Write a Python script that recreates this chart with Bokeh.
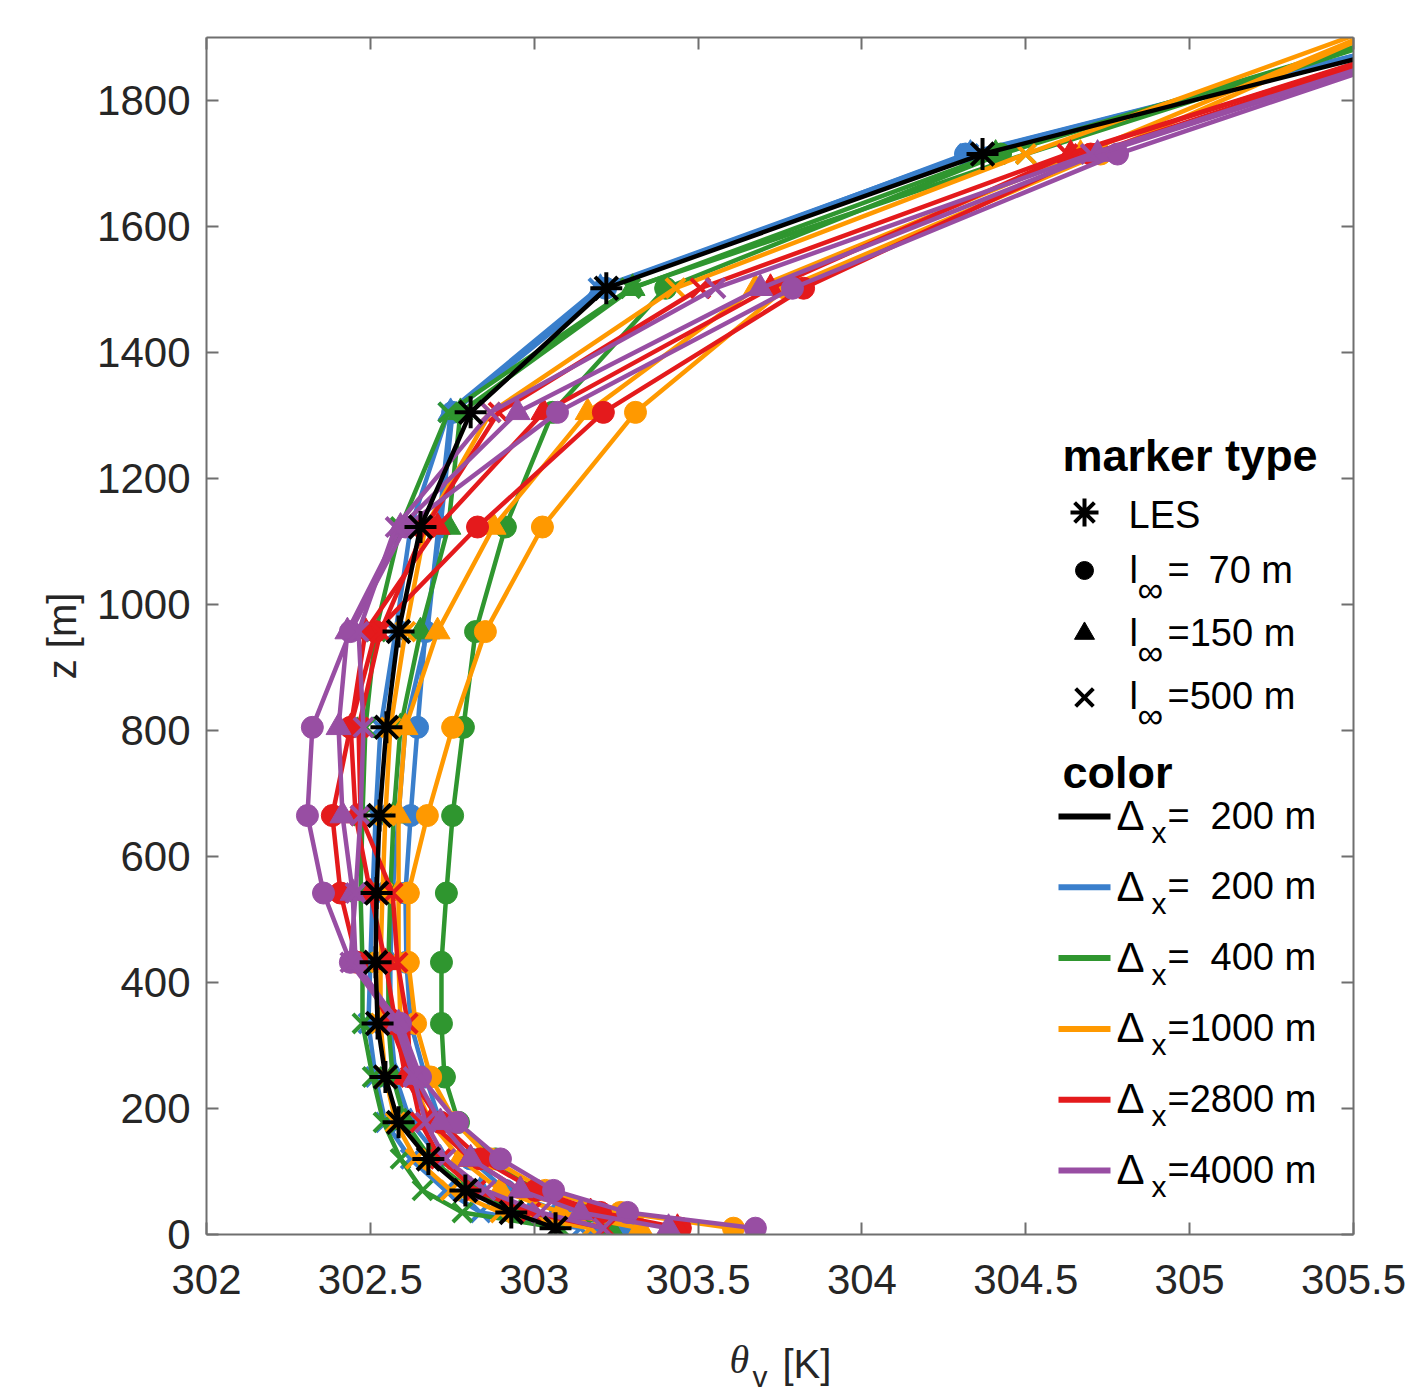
from bokeh.plotting import figure
from bokeh.models import Range1d, LinearAxis, Label, FixedTicker, CustomJSTickFormatter
from bokeh.embed import file_html
from bokeh.resources import INLINE

# ---------------- data ----------------
z_levels = [10, 35, 70, 120, 178, 250, 335, 432, 542, 665, 805, 957, 1123, 1305, 1502, 1715, 1950]

les = [303.065, 302.93, 302.79, 302.677, 302.586, 302.546, 302.522, 302.516, 302.519, 302.528,
       302.549, 302.586, 302.653, 302.806, 303.22, 304.368, 306.14]

blue_l70 = [303.279, 303.08, 302.912, 302.806, 302.714, 302.668, 302.623, 302.61, 302.607, 302.623,
            302.644, 302.668, 302.714, 302.751, 303.218, 304.316, 306.10]
blue_l150 = [303.2, 302.99, 302.836, 302.714, 302.623, 302.577, 302.561, 302.561, 302.568, 302.586,
             302.607, 302.674, 302.708, 302.745, 303.202, 304.331, 306.10]
blue_l500 = [303.141, 302.836, 302.729, 302.623, 302.546, 302.516, 302.494, 302.5, 302.507, 302.516,
             302.531, 302.577, 302.623, 302.738, 303.196, 304.325, 306.10]

green_l70 = [303.431, 303.157, 302.989, 302.882, 302.769, 302.726, 302.717, 302.717, 302.732, 302.751,
             302.784, 302.821, 302.912, 303.056, 303.401, 304.423, 305.92]
green_l150 = [303.233, 302.958, 302.806, 302.684, 302.607, 302.568, 302.555, 302.555, 302.561, 302.571,
              302.592, 302.653, 302.738, 302.775, 303.3, 304.408, 305.92]
green_l500 = [303.08, 302.781, 302.659, 302.592, 302.54, 302.507, 302.476, 302.476, 302.47, 302.476,
              302.485, 302.516, 302.592, 302.738, 303.294, 304.5, 305.92]

orange_l70 = [303.608, 303.263, 303.034, 302.867, 302.76, 302.684, 302.638, 302.616, 302.616, 302.674,
              302.751, 302.851, 303.025, 303.309, 303.767, 304.728, 305.75]
orange_l150 = [303.324, 303.08, 302.897, 302.775, 302.684, 302.623, 302.592, 302.586, 302.586, 302.586,
               302.607, 302.705, 302.876, 303.163, 303.675, 304.667, 305.75]
orange_l500 = [303.172, 302.897, 302.745, 302.638, 302.577, 302.546, 302.531, 302.531, 302.537, 302.546,
               302.561, 302.607, 302.668, 302.867, 303.431, 304.5, 305.75]

red_l70 = [303.446, 303.202, 303.004, 302.836, 302.714, 302.623, 302.561, 302.46, 302.409, 302.384,
           302.439, 302.516, 302.827, 303.211, 303.822, 304.698, 306.06]
red_l150 = [303.437, 303.172, 302.958, 302.806, 302.684, 302.607, 302.577, 302.546, 302.5, 302.455,
            302.44, 302.485, 302.705, 303.028, 303.721, 304.637, 306.06]
red_l500 = [303.218, 302.989, 302.821, 302.714, 302.653, 302.623, 302.614, 302.583, 302.568, 302.47,
            302.464, 302.531, 302.668, 302.891, 303.507, 304.627, 306.06]

purple_l70 = [303.675, 303.285, 303.059, 302.897, 302.766, 302.653, 302.592, 302.439, 302.357, 302.308,
              302.323, 302.439, 302.607, 303.071, 303.788, 304.78, 306.12]
purple_l150 = [303.41, 303.141, 302.958, 302.806, 302.714, 302.638, 302.586, 302.455, 302.446, 302.415,
               302.403, 302.43, 302.592, 302.949, 303.69, 304.719, 306.12]
purple_l500 = [303.211, 303.019, 302.851, 302.729, 302.668, 302.632, 302.577, 302.439, 302.455, 302.47,
               302.479, 302.464, 302.577, 302.867, 303.553, 304.698, 306.12]

x_ticks = [302, 302.5, 303, 303.5, 304, 304.5, 305, 305.5]
y_ticks = [0, 200, 400, 600, 800, 1000, 1200, 1400, 1600, 1800]

marker_labels = ["LES", "70 m", "150 m", "500 m"]
color_labels = ["200 m", "200 m", "400 m", "1000 m", "2800 m", "4000 m"]

BLUE, GREEN, ORANGE, RED, PURPLE = "#3a7fcc", "#2f962f", "#ff9900", "#e41a1c", "#984ea3"

groups = [
    (BLUE, [blue_l70, blue_l150, blue_l500]),
    (GREEN, [green_l70, green_l150, green_l500]),
    (ORANGE, [orange_l70, orange_l150, orange_l500]),
    (RED, [red_l70, red_l150, red_l500]),
    (PURPLE, [purple_l70, purple_l150, purple_l500]),
]
markers = [("circle", 22), ("triangle", 25), ("x", 27)]

# ---------------- figure ----------------
X0, X1, Y0, Y1 = 302, 305.5, 0, 1900
FL, FR, FT, FB = 206, 1353, 37, 1234  # frame in page pixels
W, H = 1406, 1394


def sx(px):
    return X0 + (px - FL) / (FR - FL) * (X1 - X0)


def sy(py):
    return Y0 + (FB - py) / (FB - FT) * (Y1 - Y0)


p = figure(frame_width=FR - FL, frame_height=FB - FT,
           x_range=Range1d(X0, X1), y_range=Range1d(Y0, Y1),
           output_backend="svg", toolbar_location=None,
           min_border_left=FL, min_border_top=FT,
           min_border_right=W - FR, min_border_bottom=H - FB)
p.xgrid.visible = False
p.ygrid.visible = False
p.outline_line_color = None
p.background_fill_color = "white"

FONT = "Liberation Sans"
AXC = "#6f6f6f"
fmt = CustomJSTickFormatter(code="return String(Math.round(tick*10)/10);")
blank = CustomJSTickFormatter(code="return '';")

xa = p.xaxis[0]
ya = p.yaxis[0]
for ax, tk in ((xa, x_ticks), (ya, y_ticks)):
    ax.ticker = FixedTicker(ticks=tk)
    ax.formatter = fmt
    ax.axis_line_color = AXC
    ax.axis_line_width = 2
    ax.major_tick_line_color = AXC
    ax.major_tick_line_width = 2
    ax.major_tick_in = 12
    ax.major_tick_out = 0
    ax.minor_tick_line_color = None
    ax.major_label_text_font = FONT
    ax.major_label_text_font_size = "42px"
    ax.major_label_text_color = "#262626"
xa.major_label_standoff = 30
ya.major_label_standoff = 16
ya.axis_label = "z [m]"
ya.axis_label_text_font = FONT
ya.axis_label_text_font_size = "40px"
ya.axis_label_text_font_style = "normal"
ya.axis_label_text_color = "#262626"
ya.axis_label_standoff = 10

for loc, tk in (("right", y_ticks), ("above", x_ticks)):
    ax = LinearAxis(ticker=FixedTicker(ticks=tk), formatter=blank,
                    axis_line_color=AXC, axis_line_width=2,
                    major_tick_line_color=AXC, major_tick_line_width=2,
                    major_tick_in=12, major_tick_out=0, minor_tick_line_color=None,
                    major_label_text_font_size="10px", major_label_standoff=0)
    p.add_layout(ax, loc)

# ---------------- series ----------------
for color, series in groups:
    for (mk, sz), xs in zip(markers, series):
        p.line(xs, z_levels, line_color=color, line_width=4.5)
        if mk == "x":
            p.scatter(xs, z_levels, marker="x", size=sz, line_color=color, line_width=4)
        else:
            p.scatter(xs, z_levels, marker=mk, size=sz, fill_color=color, line_color=color)

p.line(les, z_levels, line_color="black", line_width=4.5)
p.scatter(les, z_levels, marker="asterisk", size=32, line_color="black", line_width=4)

# ---------------- legend (drawn manually) ----------------
DY = -13  # baseline correction


def lab(px, py, text, size="38px", style="normal", font=FONT):
    p.add_layout(Label(x=sx(px), y=sy(py + DY), text=text, text_font=font, text_font_size=size,
                       text_font_style=style, text_baseline="alphabetic", text_align="left",
                       text_color="black"))


lab(1062, 468, "marker type", size="45px", style="bold")

# marker symbols
mk_y = [512, 570, 633, 697]
p.scatter([sx(1084)], [sy(mk_y[0])], marker="asterisk", size=28, line_color="black", line_width=4)
p.scatter([sx(1084)], [sy(mk_y[1])], marker="circle", size=18, fill_color="black", line_color="black")
p.scatter([sx(1084)], [sy(mk_y[2])], marker="triangle", size=20, fill_color="black", line_color="black")
p.scatter([sx(1084)], [sy(mk_y[3])], marker="x", size=25, line_color="black", line_width=4)

lab(1128, 527, marker_labels[0])
for (base, lbl) in zip([582, 645, 708], marker_labels[1:]):
    lab(1129, base, "l")
    lab(1137, base + 20, "\u221e", size="36px")
    if len(lbl) < 5:
        lab(1167, base, "=")
        lab(1208, base, lbl)
    else:
        lab(1167, base, "=" + lbl)

lab(1062, 785, "color", size="45px", style="bold")
leg_colors = ["black", BLUE, GREEN, ORANGE, RED, PURPLE]
for i, (c, lbl) in enumerate(zip(leg_colors, color_labels)):
    base = 828 + i * 70.8
    sw = base - 12
    p.segment(x0=[sx(1058)], y0=[sy(sw)], x1=[sx(1110)], y1=[sy(sw)], line_color=c, line_width=6)
    lab(1116, base, "\u0394", size="42px")
    lab(1151, base + 17, "x", size="30px")
    if len(lbl) < 6:
        lab(1167, base, "=")
        lab(1210, base, lbl)
    else:
        lab(1167, base, "=" + lbl)

# x axis label: theta_v [K]  (each Label gets its own stacked slot in the panel below,
# so the vertical positions carry per-slot corrections)
for txt, px, py, size, font, style in (("\u03b8", 729, 1412, "40px", "Liberation Serif", "italic"),
                                       ("v", 752, 1396, "30px", FONT, "normal"),
                                       ("[K]", 782, 1339, "40px", FONT, "normal")):
    p.add_layout(Label(x=px - FL, y=H - py, x_units="screen", y_units="screen", text=txt,
                       text_font=font, text_font_size=size, text_font_style=style,
                       text_baseline="alphabetic", text_align="left", text_color="#262626"),
                 "below")

open("out.html", "w").write(file_html(p, INLINE))
